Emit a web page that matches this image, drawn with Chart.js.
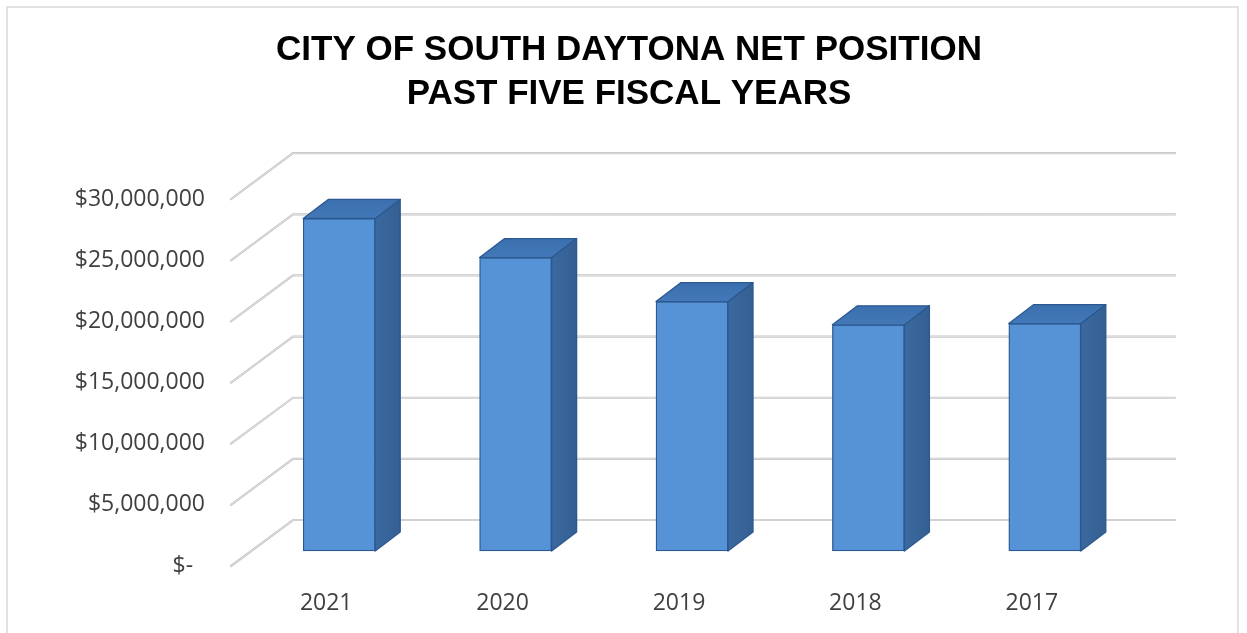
<!DOCTYPE html>
<html>
<head>
<meta charset="utf-8">
<script src="https://cdn.jsdelivr.net/npm/chart.js@4.4.1/dist/chart.umd.min.js"></script>
<style>
  html, body { margin: 0; padding: 0; background: #fff; overflow: hidden; }
  #wrap { width: 1247px; height: 633px; position: relative; }
</style>
</head>
<body>
<div id="wrap"><canvas id="net-chart" width="1247" height="633"></canvas></div>
<script>
var years = ['2021', '2020', '2019', '2018', '2017'];
var netPosition = [27200000, 24000000, 20400000, 18500000, 18600000];
var titleLines = ['CITY OF SOUTH DAYTONA NET POSITION', 'PAST FIVE FISCAL YEARS'];
var yMax = 30000000;
var yStep = 5000000;

// depth of the 3d box (wall) and where the bars sit inside it
var wallDx = 62, wallDy = -46;
var barDx = 20, barDy = -15;
var sideDx = 25, sideDy = -19;

function money(v){
  if (v === 0) return '$-  ';
  return '$' + String(v).replace(/\B(?=(\d{3})+(?!\d))/g, ',');
}

var frame3d = {
  id: 'frame3d',
  beforeDraw: function(chart){
    var ctx = chart.ctx;
    ctx.save();
    ctx.fillStyle = '#fff';
    ctx.fillRect(0, 0, chart.width, chart.height);
    ctx.strokeStyle = '#d9d9d9';
    ctx.lineWidth = 1.5;
    ctx.strokeRect(7, 7, 1231, 640);
    ctx.restore();
  },
  beforeDatasetsDraw: function(chart){
    var ctx = chart.ctx;
    var area = chart.chartArea;
    var y = chart.scales.y;
    ctx.save();
    ctx.lineCap = 'round';
    y.ticks.forEach(function(t){
      var py = y.getPixelForValue(t.value);
      ctx.beginPath();
      ctx.moveTo(area.left, py);
      ctx.lineTo(area.left + wallDx, py + wallDy);
      ctx.lineTo(area.right + wallDx, py + wallDy);
      ctx.strokeStyle = '#c4c4c4';
      ctx.lineWidth = 2.2;
      ctx.stroke();
      ctx.strokeStyle = '#e8e8e8';
      ctx.lineWidth = 0.8;
      ctx.stroke();
    });
    ctx.restore();
    // push the front faces back into the box
    ctx.save();
    ctx.translate(barDx, barDy);
  },
  afterDatasetsDraw: function(chart){
    var ctx = chart.ctx;
    ctx.restore();
    var meta = chart.getDatasetMeta(0);
    ctx.save();
    ctx.lineJoin = 'round';
    ctx.strokeStyle = '#2c5891';
    ctx.lineWidth = 1.3;
    meta.data.forEach(function(bar){
      var p = bar.getProps(['x', 'y', 'base', 'width'], true);
      if (!isFinite(p.x) || !isFinite(p.y)) return;
      var l = p.x - p.width / 2 + barDx;
      var r = p.x + p.width / 2 + barDx;
      var t = p.y + barDy;
      var b = p.base + barDy;

      // side
      var sg = ctx.createLinearGradient(r, 0, r + sideDx, 0);
      sg.addColorStop(0, '#3a6aa0');
      sg.addColorStop(1, '#355f92');
      ctx.beginPath();
      ctx.moveTo(r, t);
      ctx.lineTo(r + sideDx, t + sideDy);
      ctx.lineTo(r + sideDx, b + sideDy);
      ctx.lineTo(r, b);
      ctx.closePath();
      ctx.fillStyle = sg;
      ctx.fill();
      ctx.stroke();

      // top
      var tg = ctx.createLinearGradient(0, t + sideDy, 0, t);
      tg.addColorStop(0, '#3b6fae');
      tg.addColorStop(1, '#4379b8');
      ctx.beginPath();
      ctx.moveTo(l, t);
      ctx.lineTo(l + sideDx, t + sideDy);
      ctx.lineTo(r + sideDx, t + sideDy);
      ctx.lineTo(r, t);
      ctx.closePath();
      ctx.fillStyle = tg;
      ctx.fill();
      ctx.stroke();
    });
    ctx.restore();
  }
};

function frontFill(context){
  var chart = context.chart;
  var el = context.element;
  if (!chart.chartArea || !el || !isFinite(el.x) || !isFinite(el.width)) return '#5593d6';
  var l = el.x - el.width / 2;
  var g = chart.ctx.createLinearGradient(l, 0, l + el.width, 0);
  g.addColorStop(0, '#4c8dd4');
  g.addColorStop(0.45, '#5c9ddd');
  g.addColorStop(1, '#4e8dd1');
  return g;
}

var ctx = document.getElementById('net-chart');
var myChart = new Chart(ctx, {
  type: 'bar',
  data: {
    labels: years,
    datasets: [{
      label: 'Net Position',
      data: netPosition,
      yAxisID: 'y',
      backgroundColor: frontFill,
      borderColor: '#2c5891',
      borderWidth: 1.3,
      borderSkipped: false,
      barThickness: 72,
      clip: false
    }]
  },
  options: {
    responsive: false,
    animation: false,
    devicePixelRatio: 1,
    layout: { padding: { left: 11, right: 0, top: 0, bottom: 0 } },
    plugins: {
      legend: { display: false },
      tooltip: { enabled: false },
      title: {
        display: true,
        text: titleLines,
        color: '#000',
        font: { family: 'Liberation Sans', size: 35, weight: 'bold', lineHeight: 1.26 },
        padding: { top: 28, bottom: 83 }
      }
    },
    scales: {
      x: {
        grid: { display: false },
        border: { display: false },
        ticks: {
          color: '#404040',
          padding: 16,
          labelOffset: 7,
          font: { family: 'Open Sans', size: 23 }
        },
        afterFit: function(scale){ scale.height = 67; }
      },
      y: {
        min: 0,
        max: yMax,
        grid: { display: false },
        border: { display: false },
        ticks: {
          stepSize: yStep,
          color: '#404040',
          padding: 18,
          font: { family: 'Open Sans', size: 23 },
          callback: function(v){ return money(v); }
        },
        afterFit: function(scale){ scale.width = 220; }
      },
      // empty space on the right, keeps the title centred on the page
      yr: {
        type: 'linear',
        position: 'right',
        grid: { display: false },
        border: { display: false },
        ticks: { display: false },
        afterFit: function(scale){ scale.width = 134; }
      }
    }
  },
  plugins: [frame3d]
});
</script>
</body>
</html>
